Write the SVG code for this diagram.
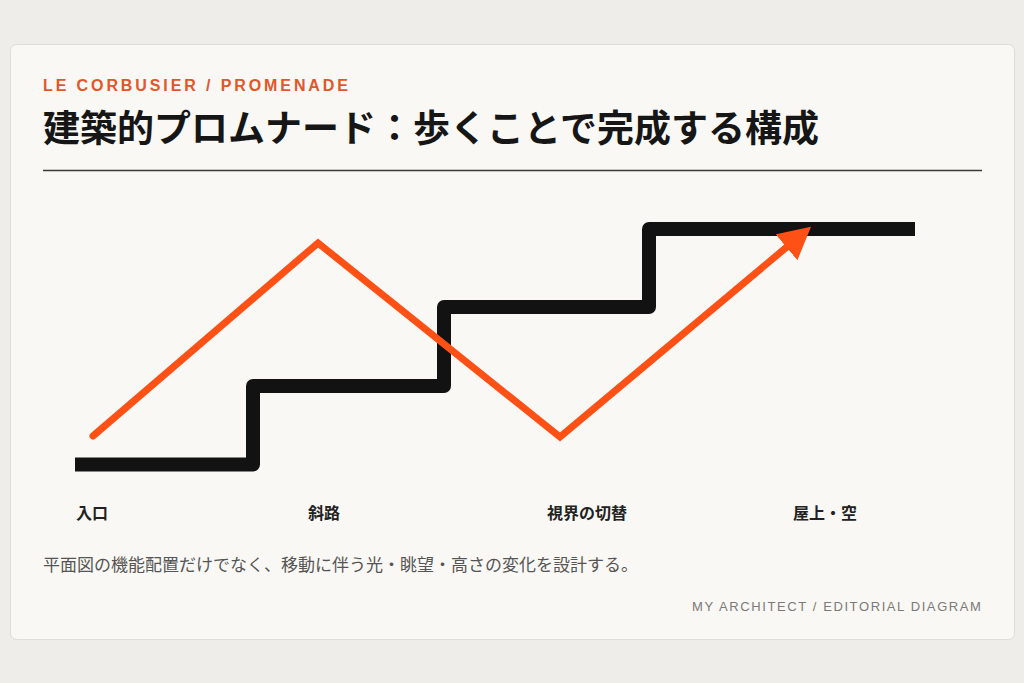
<svg xmlns="http://www.w3.org/2000/svg" width="1024" height="683" viewBox="0 0 1024 683">
  <defs>
    <style>
      .kicker{font-family:"Liberation Sans",Arial,sans-serif;font-weight:700;font-size:16px;letter-spacing:2.9px;fill:#E2562A}
      .title{font-family:"Noto Sans CJK JP","Noto Sans",sans-serif;font-weight:700;font-size:37px;fill:#161616}
      .label{font-family:"Noto Sans CJK JP","Noto Sans",sans-serif;font-weight:700;font-size:16px;fill:#222}
      .desc{font-family:"Noto Sans CJK JP","Noto Sans",sans-serif;font-weight:400;font-size:17px;fill:#555}
      .foot{font-family:"Liberation Sans",Arial,sans-serif;font-size:13px;letter-spacing:1.6px;fill:#7a7a78}
      .stair{fill:none;stroke:#121212;stroke-width:14;stroke-linejoin:round;stroke-linecap:butt}
      .route{fill:none;stroke:#FF5016;stroke-width:7;stroke-linejoin:miter;stroke-linecap:round}
    </style>
    <marker id="arrow" markerUnits="userSpaceOnUse" markerWidth="34" markerHeight="36" refX="2" refY="17" orient="auto">
      <path d="M0,0 L32,17 L0,34 Z" fill="#FF5016"/>
    </marker>
  </defs>
  <rect x="0" y="0" width="1024" height="683" fill="#EEEDEA"/>
  <rect x="10.5" y="44.5" width="1004" height="595" rx="6" fill="#F9F8F4" stroke="#DEDDD9"/>

  <g id="header">
    <text class="kicker" x="43" y="91">LE CORBUSIER / PROMENADE</text>
    <text class="title" x="43" y="142">建築的プロムナード：歩くことで完成する構成</text>
    <line x1="43" y1="170.5" x2="982" y2="170.5" stroke="#3a3a38" stroke-width="1.5"/>
  </g>

  <g id="connectors">
    <path id="stair" class="stair" d="M75,464.5 H253 V386 H444 V307 H649 V229 H915"/>
    <path id="route" class="route" d="M93,436 L318,243 L560,437 L788,246" marker-end="url(#arrow)"/>
  </g>

  <g id="node-entrance"><text class="label" x="76" y="519">入口</text></g>
  <g id="node-ramp"><text class="label" x="308" y="519">斜路</text></g>
  <g id="node-view"><text class="label" x="547" y="519">視界の切替</text></g>
  <g id="node-roof"><text class="label" x="793" y="519">屋上・空</text></g>

  <g id="footer">
    <text class="desc" x="43" y="571">平面図の機能配置だけでなく、移動に伴う光・眺望・高さの変化を設計する。</text>
    <text class="foot" x="692" y="611">MY ARCHITECT / EDITORIAL DIAGRAM</text>
  </g>
</svg>
